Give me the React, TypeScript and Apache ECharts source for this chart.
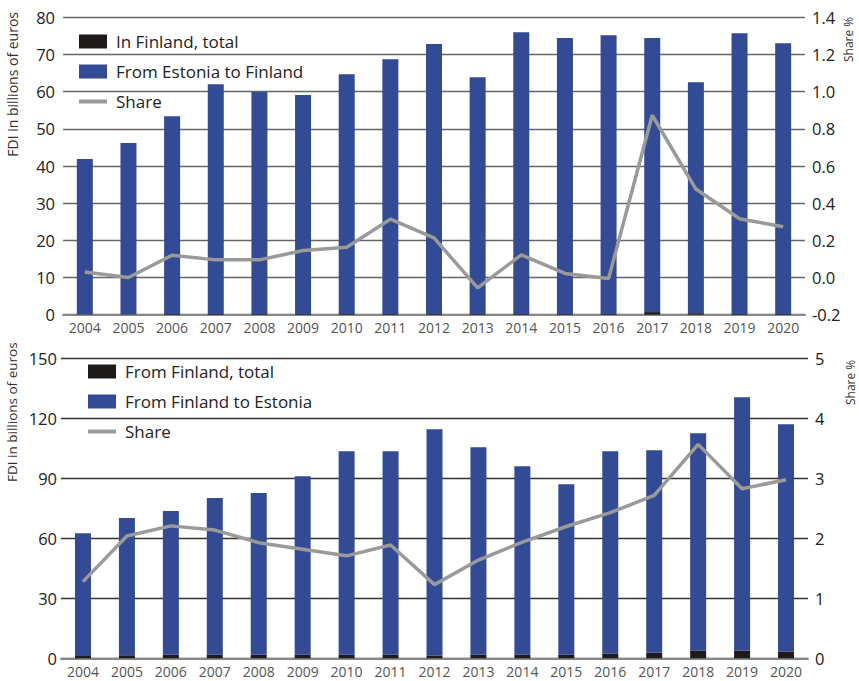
import React, { useEffect, useRef } from "react";
import * as echarts from "echarts";

const years = ["2004", "2005", "2006", "2007", "2008", "2009", "2010", "2011", "2012", "2013", "2014", "2015", "2016", "2017", "2018", "2019", "2020"];

// Top panel
const inFinlandTotal = [0.1, 0.1, 0.2, 0.2, 0.2, 0.2, 0.2, 0.2, 0.2, 0.2, 0.2, 0.2, 0.2, 0.7, 0.4, 0.2, 0.2];
const fromEstoniaToFinland = [41.8, 46.1, 53.2, 61.8, 59.7, 58.9, 64.5, 68.5, 72.6, 63.7, 75.8, 74.2, 75.0, 73.7, 62.1, 75.5, 72.8];
const shareTop = [0.03, 0.0, 0.12, 0.095, 0.095, 0.145, 0.163, 0.314, 0.213, -0.056, 0.122, 0.022, -0.005, 0.873, 0.476, 0.316, 0.273];

// Bottom panel
const fromFinlandTotal = [1.2, 1.5, 1.8, 1.8, 1.8, 1.8, 1.8, 1.8, 1.3, 1.8, 1.8, 1.8, 2.3, 2.8, 3.8, 3.8, 3.3];
const fromFinlandToEstonia = [61.4, 68.7, 71.9, 78.4, 80.9, 89.4, 101.9, 101.9, 113.4, 103.9, 94.4, 85.4, 101.4, 101.4, 108.9, 126.9, 113.9];
const shareBottom = [1.28, 2.04, 2.21, 2.14, 1.93, 1.82, 1.71, 1.89, 1.23, 1.64, 1.94, 2.2, 2.43, 2.72, 3.57, 2.83, 2.98];

const leftTicksTop = { min: 0, max: 80, interval: 10 };
const rightTicksTop = { min: -0.2, max: 1.4, interval: 0.2 };
const leftTicksBottom = { min: 0, max: 150, interval: 30 };
const rightTicksBottom = { min: 0, max: 5, interval: 1 };

const FONT = "Open Sans";
const BLUE = "#334a94";
const BLACK = "#1f1a1a";
const GREY = "#9a9a9a";

function buildOption(p: any) {
  return {
    animation: false,
    textStyle: { fontFamily: FONT },
    grid: p.grid,
    legend: {
      left: p.legendLeft,
      top: p.legendTop,
      orient: "vertical",
      itemWidth: 28,
      itemHeight: 14,
      itemGap: 13,
      textStyle: { fontSize: 17, color: "#222", fontFamily: FONT, padding: [0, 0, 0, 4], lineHeight: 17 },
      data: [
        { name: p.names[0], icon: "rect" },
        { name: p.names[1], icon: "rect" },
        { name: "Share", icon: "path://M0,0H28V4H0Z" },
      ],
    },
    xAxis: {
      type: "category",
      data: years,
      axisTick: { show: false },
      axisLine: { show: true, lineStyle: { color: "#888", width: 2 } },
      axisLabel: { color: "#555", fontSize: 14, margin: 6, fontFamily: FONT },
    },
    yAxis: [
      {
        type: "value",
        min: p.left.min,
        max: p.left.max,
        interval: p.left.interval,
        axisLine: { show: false },
        axisTick: { show: false },
        axisLabel: { color: "#222", fontSize: 16.5, margin: p.leftMargin, fontFamily: FONT },
        splitLine: { show: true, lineStyle: { color: p.gridColor, width: 1.3 } },
      },
      {
        type: "value",
        min: p.right.min,
        max: p.right.max,
        interval: p.right.interval,
        axisLine: { show: false },
        axisTick: { show: false },
        splitLine: { show: false },
        axisLabel: {
          color: "#222",
          fontSize: 16.5,
          margin: 7,
          fontFamily: FONT,
          formatter: (v: number) => (p.decimals ? v.toFixed(1) : String(Math.round(v))),
        },
      },
    ],
    series: [
      {
        name: p.names[0],
        type: "bar",
        stack: "fdi",
        barWidth: 16,
        itemStyle: { color: BLACK },
        data: p.black,
      },
      {
        name: p.names[1],
        type: "bar",
        stack: "fdi",
        barWidth: 16,
        itemStyle: { color: BLUE },
        data: p.blue,
      },
      {
        name: "Share",
        type: "line",
        yAxisIndex: 1,
        symbol: "none",
        showSymbol: false,
        lineStyle: { color: GREY, width: 3.5 },
        itemStyle: { color: GREY },
        data: p.share,
        z: 5,
      },
    ],
    graphic: [
      {
        type: "text",
        x: 12,
        y: p.leftTitleY,
        rotation: Math.PI / 2,
        style: {
          text: "FDI in billions of euros",
          fontSize: p.leftTitleSize,
          fontFamily: FONT,
          fill: "#333",
          textAlign: p.leftTitleAlign,
          textVerticalAlign: "middle",
        },
      },
      {
        type: "text",
        x: p.rightTitleX,
        y: p.rightTitleY,
        rotation: Math.PI / 2,
        style: {
          text: "Share %",
          fontSize: 12,
          fontFamily: FONT,
          fill: "#333",
          textAlign: "left",
          textVerticalAlign: "middle",
        },
      },
    ],
  };
}

function Panel(props: { option: any; top: number; height: number }) {
  const ref = useRef<HTMLDivElement>(null);
  useEffect(() => {
    if (!ref.current) return;
    const chart = echarts.init(ref.current, undefined, { renderer: "svg" });
    chart.setOption(props.option);
    return () => chart.dispose();
  }, []);
  return (
    <div
      ref={ref}
      style={{ position: "absolute", left: 0, top: props.top, width: 859, height: props.height }}
    />
  );
}

export default function App() {
  const topOption = buildOption({
    grid: { left: 63, right: 54, top: 17.3, bottom: 25.3 },
    legendLeft: 74,
    legendTop: 28,
    names: ["In Finland, total", "From Estonia to Finland"],
    left: leftTicksTop,
    right: rightTicksTop,
    leftMargin: 8,
    gridColor: "#666",
    decimals: true,
    black: inFinlandTotal,
    blue: fromEstoniaToFinland,
    share: shareTop,
    leftTitleY: 12,
    leftTitleAlign: "right",
    leftTitleSize: 14,
    rightTitleX: 848,
    rightTitleY: 62,
  });
  const bottomOption = buildOption({
    grid: { left: 61, right: 51, top: 18.7, bottom: 22.7 },
    legendLeft: 83,
    legendTop: 18,
    names: ["From Finland, total", "From Finland to Estonia"],
    left: leftTicksBottom,
    right: rightTicksBottom,
    leftMargin: 4,
    gridColor: "#333",
    decimals: false,
    black: fromFinlandTotal,
    blue: fromFinlandToEstonia,
    share: shareBottom,
    leftTitleY: 142,
    leftTitleAlign: "left",
    leftTitleSize: 13.5,
    rightTitleX: 850,
    rightTitleY: 65,
  });
  return (
    <div style={{ position: "absolute", left: 0, top: 0, width: 859, height: 681, background: "#fff" }}>
      <Panel option={topOption} top={0} height={340} />
      <Panel option={bottomOption} top={340} height={341} />
    </div>
  );
}
